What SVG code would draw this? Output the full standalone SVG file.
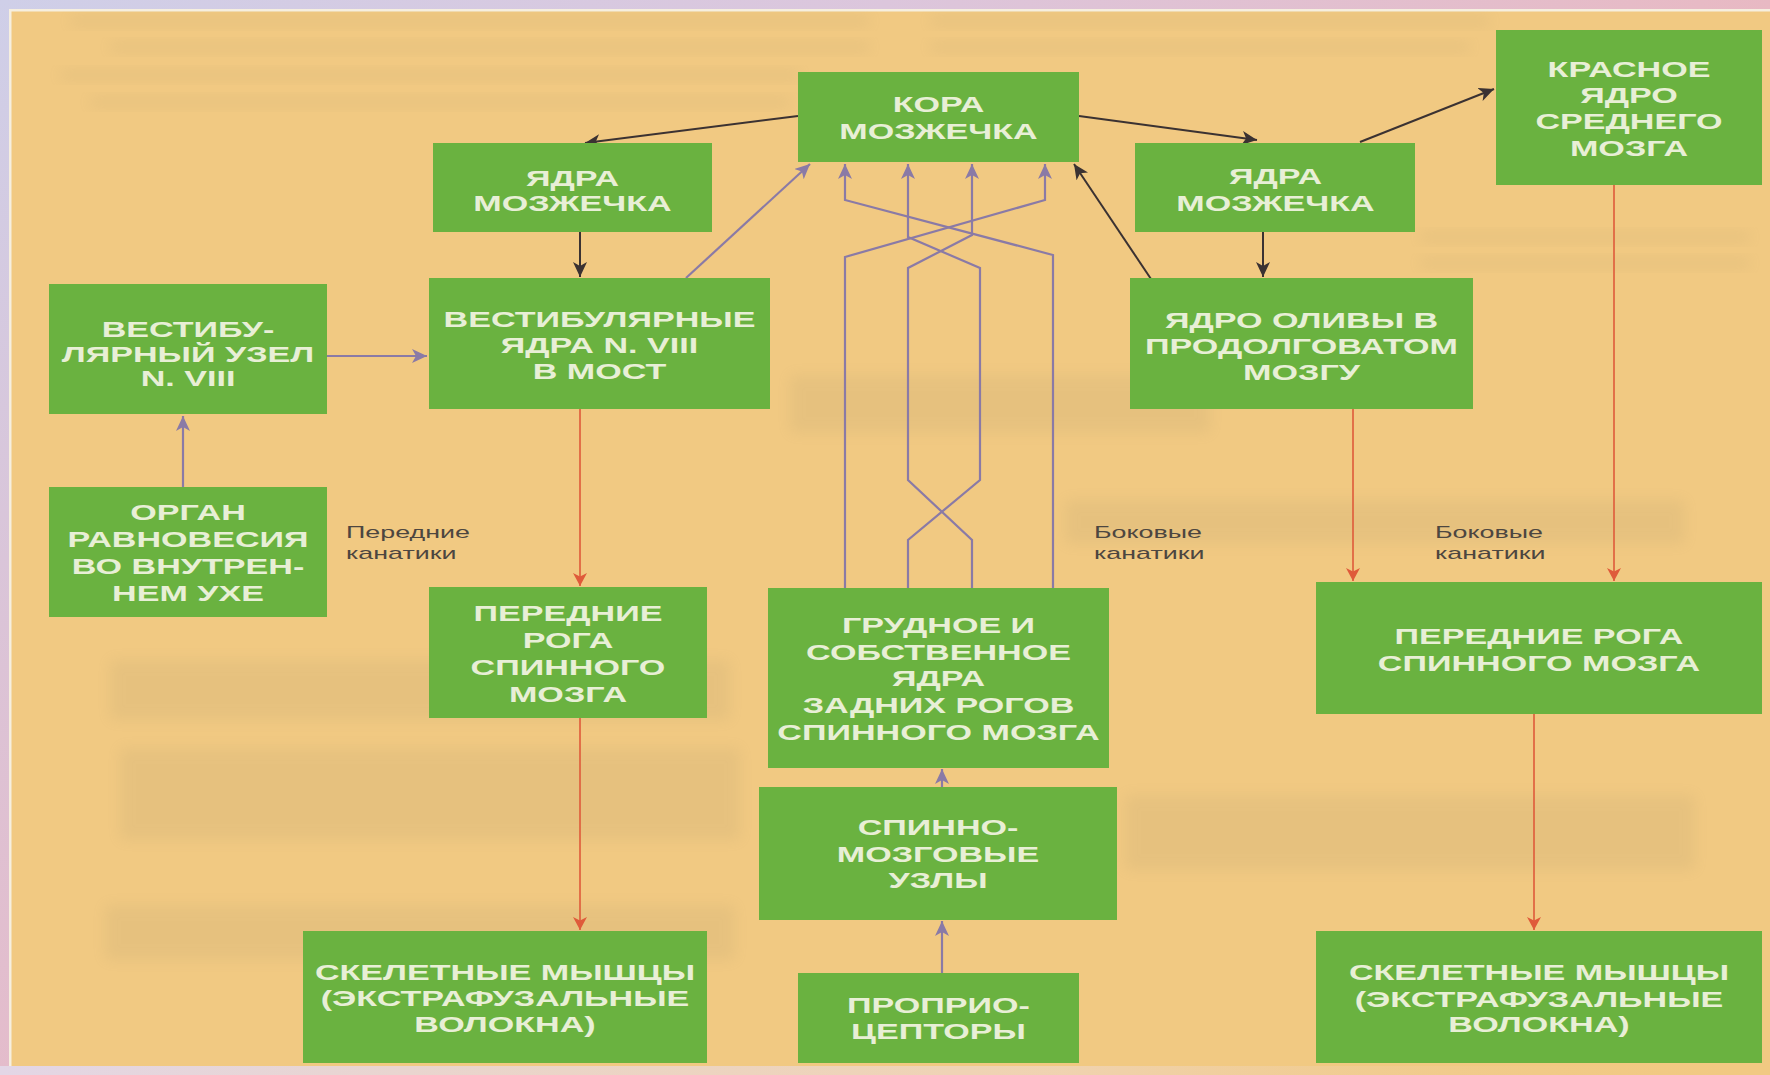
<svg xmlns="http://www.w3.org/2000/svg" width="1770" height="1075" viewBox="0 0 1770 1075">
  <defs>
    <style>
      .node { fill: #6ab240; }
      .lbl { font-family: "Liberation Sans", Arial, sans-serif; font-weight: bold; font-size: 22px; fill: #e8efd6; text-anchor: middle; }
      .note { font-family: "Liberation Sans", Arial, sans-serif; font-size: 17px; fill: #4d4640; }
      .blk { stroke: #3b3232; stroke-width: 2; fill: none; marker-end: url(#ah-blk); }
      .pur { stroke: #8a7aa6; stroke-width: 2.2; fill: none; marker-end: url(#ah-pur); }
      .red { stroke: #df5a3a; stroke-width: 1.6; fill: none; marker-end: url(#ah-red); }
      .ghost { fill: #8c8262; opacity: 0.10; filter: url(#soft); }
    </style>
    <linearGradient id="topband" x1="0" y1="0" x2="1" y2="0">
      <stop offset="0" stop-color="#cfcfe8"/>
      <stop offset="0.5" stop-color="#dcc6dc"/>
      <stop offset="1" stop-color="#e8b9c3"/>
    </linearGradient>
    <linearGradient id="leftband" x1="0" y1="0" x2="0" y2="1">
      <stop offset="0" stop-color="#cfcfe8"/>
      <stop offset="1" stop-color="#e4bccb"/>
    </linearGradient>
    <linearGradient id="botband" x1="0" y1="0" x2="1" y2="0">
      <stop offset="0" stop-color="#e3d6e6"/>
      <stop offset="0.6" stop-color="#efd9cf" stop-opacity="0.6"/>
      <stop offset="1" stop-color="#f1c982" stop-opacity="0"/>
    </linearGradient>
    <filter id="soft" x="-10%" y="-50%" width="120%" height="200%">
      <feGaussianBlur stdDeviation="7"/>
    </filter>
    <marker id="ah-blk" markerUnits="userSpaceOnUse" markerWidth="16" markerHeight="14" refX="15" refY="7" orient="auto">
      <path d="M0,0 L15,7 L0,14 L4,7 z" fill="#3b3232"/>
    </marker>
    <marker id="ah-pur" markerUnits="userSpaceOnUse" markerWidth="16" markerHeight="14" refX="15" refY="7" orient="auto">
      <path d="M0,0 L15,7 L0,14 L4,7 z" fill="#8a7aa6"/>
    </marker>
    <marker id="ah-red" markerUnits="userSpaceOnUse" markerWidth="14" markerHeight="14" refX="13" refY="7" orient="auto">
      <path d="M0,0 L13,7 L0,14 L3.5,7 z" fill="#df5a3a"/>
    </marker>
  </defs>

  <!-- paper and frame -->
  <rect x="0" y="0" width="1770" height="1075" fill="#f1c982"/>
  <rect x="0" y="0" width="1770" height="9" fill="url(#topband)"/>
  <rect x="0" y="0" width="9" height="1075" fill="url(#leftband)"/>
  <rect x="9" y="9" width="1761" height="2.5" fill="#f6efdf"/>
  <rect x="9" y="9" width="2.5" height="1058" fill="#f6efdf"/>
  <rect x="0" y="1066" width="1770" height="9" fill="url(#botband)"/>

  <!-- faint show-through from the reverse side of the page -->
  <g id="paper-texture">
    <rect class="ghost" x="70" y="16" width="800" height="10"/>
    <rect class="ghost" x="110" y="42" width="760" height="10"/>
    <rect class="ghost" x="60" y="70" width="740" height="10"/>
    <rect class="ghost" x="90" y="97" width="700" height="10"/>
    <rect class="ghost" x="930" y="16" width="560" height="10"/>
    <rect class="ghost" x="930" y="42" width="540" height="10"/>
    <rect class="ghost" x="1420" y="232" width="330" height="10"/>
    <rect class="ghost" x="1420" y="258" width="330" height="10"/>
    <rect class="ghost" x="790" y="375" width="420" height="58"/>
    <rect class="ghost" x="1065" y="500" width="620" height="44"/>
    <rect class="ghost" x="110" y="660" width="620" height="60"/>
    <rect class="ghost" x="120" y="748" width="620" height="92"/>
    <rect class="ghost" x="105" y="905" width="630" height="55"/>
    <rect class="ghost" x="1125" y="795" width="570" height="75"/>
  </g>

  <!-- connectors -->
  <g id="connectors">
    <!-- cerebellar cortex / nuclei loops -->
    <path class="blk" d="M798,116 L585,143"/>
    <path class="blk" d="M580,232 V277"/>
    <path class="blk" d="M1079,116 L1257,140"/>
    <path class="blk" d="M1263,232 V277"/>
    <path class="blk" d="M1360,142 L1494,89"/>
    <path class="blk" d="M1151,279 L1074,164"/>
    <!-- afferent (purple) -->
    <path class="pur" d="M327,356 H427"/>
    <path class="pur" d="M183,487 V416"/>
    <path class="pur" d="M686,278 L810,164"/>
    <path class="pur" d="M845,588 V257 L1045,200 V164"/>
    <path class="pur" d="M1053,588 V255 L845,200 V164"/>
    <path class="pur" d="M908,588 V540 L980,480 V268 L908,237 V164"/>
    <path class="pur" d="M972,588 V540 L908,480 V268 L972,235 V164"/>
    <path class="pur" d="M942,787 V769"/>
    <path class="pur" d="M942,973 V921"/>
    <!-- efferent (red) -->
    <path class="red" d="M580,409 V586"/>
    <path class="red" d="M580,718 V930"/>
    <path class="red" d="M1353,409 V581"/>
    <path class="red" d="M1614,185 V581"/>
    <path class="red" d="M1534,714 V930"/>
  </g>

  <!-- tract labels -->
  <g id="tract-labels">
    <text class="note" transform="translate(346 0) scale(1.58 1)"><tspan x="0" y="538">Передние</tspan><tspan x="0" y="559">канатики</tspan></text>
    <text class="note" transform="translate(1094 0) scale(1.58 1)"><tspan x="0" y="538">Боковые</tspan><tspan x="0" y="559">канатики</tspan></text>
    <text class="note" transform="translate(1435 0) scale(1.58 1)"><tspan x="0" y="538">Боковые</tspan><tspan x="0" y="559">канатики</tspan></text>
  </g>

  <!-- nodes -->
  <g id="n-vest-ganglion">
    <rect class="node" x="49" y="284" width="278" height="130"/>
    <text class="lbl" transform="translate(188 0) scale(1.55 1)"><tspan x="0" y="337">ВЕСТИБУ-</tspan><tspan x="0" y="362">ЛЯРНЫЙ УЗЕЛ</tspan><tspan x="0" y="386">N. VIII</tspan></text>
  </g>
  <g id="n-cereb-nuclei-left">
    <rect class="node" x="433" y="143" width="279" height="89"/>
    <text class="lbl" transform="translate(572.5 0) scale(1.55 1)"><tspan x="0" y="186">ЯДРА</tspan><tspan x="0" y="211">МОЗЖЕЧКА</tspan></text>
  </g>
  <g id="n-vest-nuclei">
    <rect class="node" x="429" y="278" width="341" height="131"/>
    <text class="lbl" transform="translate(599.5 0) scale(1.55 1)"><tspan x="0" y="327">ВЕСТИБУЛЯРНЫЕ</tspan><tspan x="0" y="353">ЯДРА N. VIII</tspan><tspan x="0" y="379">В МОСТ</tspan></text>
  </g>
  <g id="n-cortex">
    <rect class="node" x="798" y="72" width="281" height="90"/>
    <text class="lbl" transform="translate(938.5 0) scale(1.55 1)"><tspan x="0" y="112">КОРА</tspan><tspan x="0" y="139">МОЗЖЕЧКА</tspan></text>
  </g>
  <g id="n-cereb-nuclei-right">
    <rect class="node" x="1135" y="143" width="280" height="89"/>
    <text class="lbl" transform="translate(1275.5 0) scale(1.55 1)"><tspan x="0" y="184">ЯДРА</tspan><tspan x="0" y="211">МОЗЖЕЧКА</tspan></text>
  </g>
  <g id="n-red-nucleus">
    <rect class="node" x="1496" y="30" width="266" height="155"/>
    <text class="lbl" transform="translate(1629 0) scale(1.55 1)"><tspan x="0" y="77">КРАСНОЕ</tspan><tspan x="0" y="103">ЯДРО</tspan><tspan x="0" y="129">СРЕДНЕГО</tspan><tspan x="0" y="156">МОЗГА</tspan></text>
  </g>
  <g id="n-olive">
    <rect class="node" x="1130" y="278" width="343" height="131"/>
    <text class="lbl" transform="translate(1301.5 0) scale(1.55 1)"><tspan x="0" y="328">ЯДРО ОЛИВЫ В</tspan><tspan x="0" y="354">ПРОДОЛГОВАТОМ</tspan><tspan x="0" y="380">МОЗГУ</tspan></text>
  </g>
  <g id="n-balance-organ">
    <rect class="node" x="49" y="487" width="278" height="130"/>
    <text class="lbl" transform="translate(188 0) scale(1.55 1)"><tspan x="0" y="520">ОРГАН</tspan><tspan x="0" y="547">РАВНОВЕСИЯ</tspan><tspan x="0" y="574">ВО ВНУТРЕН-</tspan><tspan x="0" y="601">НЕМ УХЕ</tspan></text>
  </g>
  <g id="n-ant-horns-left">
    <rect class="node" x="429" y="587" width="278" height="131"/>
    <text class="lbl" transform="translate(568 0) scale(1.55 1)"><tspan x="0" y="621">ПЕРЕДНИЕ</tspan><tspan x="0" y="648">РОГА</tspan><tspan x="0" y="675">СПИННОГО</tspan><tspan x="0" y="702">МОЗГА</tspan></text>
  </g>
  <g id="n-muscles-left">
    <rect class="node" x="303" y="931" width="404" height="132"/>
    <text class="lbl" transform="translate(505 0) scale(1.55 1)"><tspan x="0" y="980">СКЕЛЕТНЫЕ МЫШЦЫ</tspan><tspan x="0" y="1006">(ЭКСТРАФУЗАЛЬНЫЕ</tspan><tspan x="0" y="1032">ВОЛОКНА)</tspan></text>
  </g>
  <g id="n-dorsal-horn-nuclei">
    <rect class="node" x="768" y="588" width="341" height="180"/>
    <text class="lbl" transform="translate(938.5 0) scale(1.55 1)"><tspan x="0" y="633">ГРУДНОЕ И</tspan><tspan x="0" y="660">СОБСТВЕННОЕ</tspan><tspan x="0" y="686">ЯДРА</tspan><tspan x="0" y="713">ЗАДНИХ РОГОВ</tspan><tspan x="0" y="740">СПИННОГО МОЗГА</tspan></text>
  </g>
  <g id="n-spinal-ganglia">
    <rect class="node" x="759" y="787" width="358" height="133"/>
    <text class="lbl" transform="translate(938 0) scale(1.55 1)"><tspan x="0" y="835">СПИННО-</tspan><tspan x="0" y="862">МОЗГОВЫЕ</tspan><tspan x="0" y="888">УЗЛЫ</tspan></text>
  </g>
  <g id="n-proprioceptors">
    <rect class="node" x="798" y="973" width="281" height="90"/>
    <text class="lbl" transform="translate(938.5 0) scale(1.55 1)"><tspan x="0" y="1013">ПРОПРИО-</tspan><tspan x="0" y="1039">ЦЕПТОРЫ</tspan></text>
  </g>
  <g id="n-ant-horns-right">
    <rect class="node" x="1316" y="582" width="446" height="132"/>
    <text class="lbl" transform="translate(1539 0) scale(1.55 1)"><tspan x="0" y="644">ПЕРЕДНИЕ РОГА</tspan><tspan x="0" y="671">СПИННОГО МОЗГА</tspan></text>
  </g>
  <g id="n-muscles-right">
    <rect class="node" x="1316" y="931" width="446" height="132"/>
    <text class="lbl" transform="translate(1539 0) scale(1.55 1)"><tspan x="0" y="980">СКЕЛЕТНЫЕ МЫШЦЫ</tspan><tspan x="0" y="1007">(ЭКСТРАФУЗАЛЬНЫЕ</tspan><tspan x="0" y="1032">ВОЛОКНА)</tspan></text>
  </g>
</svg>
